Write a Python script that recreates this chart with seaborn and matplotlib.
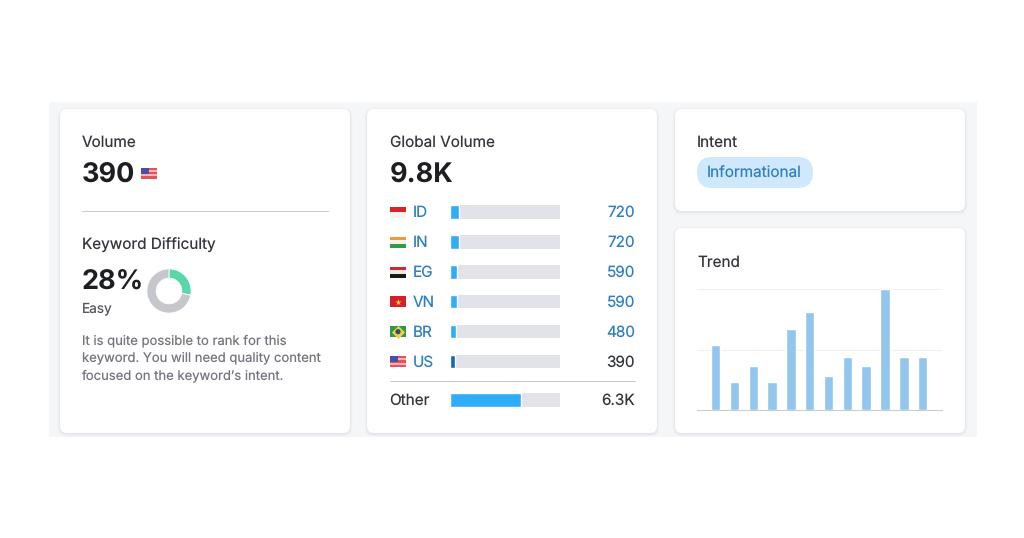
import matplotlib
matplotlib.use("Agg")
import matplotlib.pyplot as plt
from matplotlib.patches import FancyBboxPatch, Rectangle, Circle
import seaborn as sns
import pandas as pd

sns.set_theme(style="white")
plt.rcParams["font.family"] = ["Inter", "DejaVu Sans"]
plt.rcParams["text.hinting"] = "no_hinting"
plt.rcParams["text.hinting_factor"] = 1

countries = ["ID", "IN", "EG", "VN", "BR", "US", "Other"]
volume_labels = ["720", "720", "590", "590", "480", "390", "6.3K"]
share_pct = [8.5, 8.5, 7.0, 7.0, 6.0, 5.0, 64.3]
trend_months = [f"m{i}" for i in range(1, 13)]
trend_values = [54, 23, 36, 23, 67, 81, 28, 44, 36, 100, 44, 44]
difficulty = [28, 72]

W, H = 1024, 538
DARK, BLACK, BLUE, GREY = "#33363c", "#1c1e22", "#2f7fc1", "#74767f"

fig = plt.figure(figsize=(W / 100, H / 100), dpi=100, facecolor="white")
bg = fig.add_axes([0, 0, 1, 1])
bg.set_xlim(0, W); bg.set_ylim(H, 0); bg.axis("off")


def px_axes(x0, y0, x1, y1):
    ax = fig.add_axes([x0 / W, 1 - y1 / H, (x1 - x0) / W, (y1 - y0) / H])
    ax.patch.set_alpha(0)
    return ax


def rbox(x0, y0, x1, y1, r, color, z=1, alpha=1):
    bg.add_patch(FancyBboxPatch((x0 + r, y0 + r), x1 - x0 - 2 * r, y1 - y0 - 2 * r,
                                boxstyle=f"round,pad={r},rounding_size={r}",
                                fc=color, ec="none", zorder=z, alpha=alpha))


def card(x0, y0, x1, y1):
    for grow, a in ((2.5, .03), (1.5, .045), (.7, .06)):
        rbox(x0 - grow, y0 - grow + 1.0, x1 + grow, y1 + grow + 1.0, 7 + grow, "#8b93a5", 2, a)
    rbox(x0, y0, x1, y1, 7, "white", 3)


def txt(x, y, s, size=11, color=DARK, weight="normal", ha="left"):
    bg.text(x, y, s, fontsize=size, color=color, fontweight=weight, ha=ha, va="baseline", zorder=6)


bg.add_patch(Rectangle((49, 102), 928, 335, fc="#f4f6f8", ec="none", zorder=0))
card(60, 109, 350, 433)
card(367, 109, 657, 433)
card(675, 109, 965, 211)
card(675, 228, 965, 433)

# left card
txt(81.5, 147, "Volume")
txt(81.5, 182, "390", 19.5, BLACK, "bold")


def stripes(x, yc, cols, w=16, h=11):
    n = len(cols)
    for i, c in enumerate(cols):
        bg.add_patch(Rectangle((x, yc - h / 2 + i * h / n), w, h / n, fc=c, ec="none", zorder=5))


def us_flag(x, yc):
    stripes(x, yc, ["#e8505b", "#f3b5ba", "#e8505b", "#f3b5ba", "#e8505b"])
    bg.add_patch(Rectangle((x, yc - 5.5), 8, 6, fc="#4a4fa8", ec="none", zorder=5))


us_flag(141, 173)
bg.plot([81.5, 327.5], [210.5, 210.5], color="#c9cbd0", lw=0.75, zorder=5)
txt(81.5, 250, "Keyword Difficulty")
txt(81.5, 289, "28%", 19.5, BLACK, "bold")
txt(81.5, 313, "Easy", 9.8, "#55575e")
for y, s in zip((344, 361.5, 379),
                ("It is quite possible to rank for this",
                 "keyword. You will need quality content",
                 "focused on the keyword\u2019s intent.")):
    txt(81.5, y, s, 9.4, GREY)

don = px_axes(146, 268, 192, 314)
don.pie(difficulty, colors=["#5ad6a8", "#c5c7cd"], startangle=90, counterclock=False, radius=1,
        wedgeprops=dict(width=0.42, edgecolor="white", linewidth=0.6))
don.set_xlim(-1.04, 1.04); don.set_ylim(-1.04, 1.04)

# middle card
txt(389.5, 147, "Global Volume")
txt(389.5, 182, "9.8K", 19.5, BLACK, "bold")

df = pd.DataFrame({"country": countries, "share": share_pct})
# Rows are spaced 30 px apart with the last one lower, so each row gets its own axes
rows_y = [212, 242, 272, 301.7, 331.7, 361.5, 400]
for i, (c, lab, yc) in enumerate(zip(countries, volume_labels, rows_y)):
    ax = px_axes(449.5, yc - 6.7, 560, yc + 6.7)
    sns.barplot(data=df.iloc[[i]], x="share", y="country", ax=ax, width=1.0,
                color="#2fadfa" if c != "US" else "#1565b8", saturation=1)
    ax.set_facecolor("#e1e3e8"); ax.patch.set_alpha(1)
    ax.set_xlim(0, 100); ax.axis("on")
    ax.set_xlabel(""); ax.set_ylabel(""); ax.set_xticks([]); ax.set_yticks([])
    for s in ax.spines.values():
        s.set_visible(False)
    if c == "Other":
        txt(389.5, yc + 5, c, 11)
        txt(635, yc + 5, lab, 11, DARK, ha="right")
    else:
        txt(412.5, yc + 5, c, 11, BLUE)
        txt(635, yc + 5, lab, 11, DARK if c == "US" else BLUE, ha="right")

bg.plot([389.5, 635], [380.5, 380.5], color="#c9cbd0", lw=0.75, zorder=5)

stripes(390, 212, ["#d3232f", "#f4f1f1"])
stripes(390, 242, ["#f09a3c", "#f6f2ea", "#2f9a47"])
stripes(390, 272, ["#c92a33", "#f2e9df", "#1a1a1a"])
stripes(390, 301.7, ["#d5202b"])
bg.scatter([398], [301.7], marker="*", s=22, color="#f7d038", zorder=6, linewidths=0)
stripes(390, 331.7, ["#2c9a48"])
bg.scatter([398], [331.7], marker="D", s=45, color="#f0d33a", zorder=6, linewidths=0)
bg.add_patch(Circle((398, 331.7), 2.6, fc="#27478f", ec="none", zorder=7))
us_flag(390, 361.5)

# right cards
txt(697, 147, "Intent")
rbox(697, 157, 813, 188, 15.5, "#cfe8fc", 5)
txt(707, 178, "Informational", 11, BLUE)
txt(697, 266.5, "Trend")

tr = px_axes(696.5, 289, 942.2, 410)
sns.barplot(x=trend_months, y=trend_values, ax=tr, color="#93c6ec", saturation=1, width=0.5, zorder=3)
tr.set_xlim(-1.016, 12.04); tr.set_ylim(0, 100)
tr.set_xticks([]); tr.set_yticks([50, 100]); tr.set_yticklabels([])
tr.set_xlabel(""); tr.set_ylabel("")
tr.grid(axis="y", color="#eef0f3", lw=0.75, zorder=0)
tr.tick_params(left=False)
for k, s in tr.spines.items():
    s.set_visible(k == "bottom")
tr.spines["bottom"].set_color("#c9cbd0")
tr.spines["bottom"].set_linewidth(0.75)

fig.savefig("out.png", dpi=100, facecolor="white")
